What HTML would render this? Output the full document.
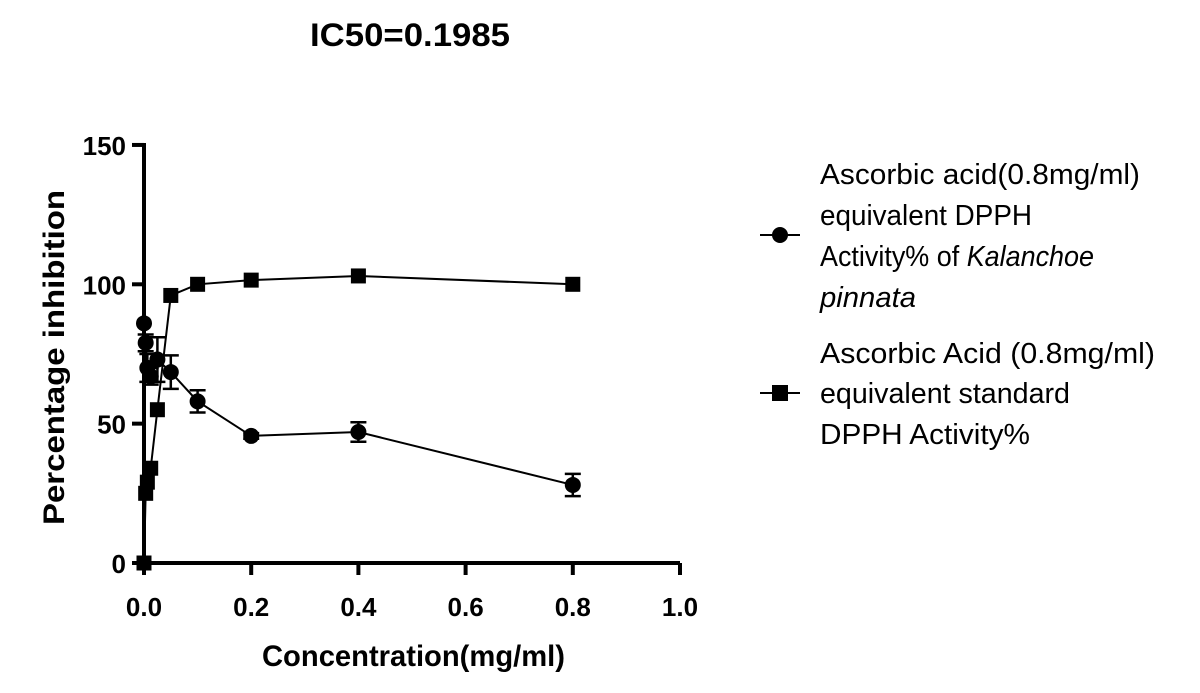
<!DOCTYPE html>
<html><head><meta charset="utf-8"><style>
body{margin:0;background:#fff;width:1200px;height:688px;overflow:hidden;font-family:"Liberation Sans",sans-serif}
</style></head><body>
<svg id="c" width="1200" height="688" font-family="Liberation Sans, sans-serif">
<text x="310" y="46" font-size="32" font-weight="bold" textLength="200" lengthAdjust="spacingAndGlyphs">IC50=0.1985</text>
<g id="axes"></g>
<g id="marks"></g>
<text x="262" y="666" font-size="30" font-weight="bold" textLength="303" lengthAdjust="spacingAndGlyphs">Concentration(mg/ml)</text>
<text transform="translate(64,525) rotate(-90)" font-size="30" font-weight="bold" textLength="335" lengthAdjust="spacingAndGlyphs">Percentage inhibition</text>
<g font-size="29">
<g>
<line x1="760" y1="235" x2="800" y2="235" stroke="#000" stroke-width="2"/>
<circle cx="780" cy="235" r="8" fill="#000"/>
<text x="820" y="184" textLength="320" lengthAdjust="spacingAndGlyphs">Ascorbic acid(0.8mg/ml)</text>
<text x="820" y="225" textLength="212" lengthAdjust="spacingAndGlyphs">equivalent DPPH</text>
<text x="820" y="266" textLength="274" lengthAdjust="spacingAndGlyphs">Activity% of <tspan font-style="italic">Kalanchoe</tspan></text>
<text x="820" y="307" font-style="italic" textLength="96" lengthAdjust="spacingAndGlyphs">pinnata</text>
</g>
<g>
<line x1="760" y1="393" x2="800" y2="393" stroke="#000" stroke-width="2"/>
<rect x="772" y="385" width="16" height="16" fill="#000"/>
<text x="820" y="363" textLength="335" lengthAdjust="spacingAndGlyphs">Ascorbic Acid (0.8mg/ml)</text>
<text x="820" y="403" textLength="250" lengthAdjust="spacingAndGlyphs">equivalent standard</text>
<text x="820" y="444" textLength="210" lengthAdjust="spacingAndGlyphs">DPPH Activity%</text>
</g>
</g>
</svg>
<script>
const xVals=[0,0.003125,0.00625,0.0125,0.025,0.05,0.1,0.2,0.4,0.8];
const circleVals=[86,79,70,67,73,68.5,58,45.6,47,28];
const circleErr=[0,3,5,3,8,6,4,1,3.5,4];
const squareVals=[0,25,29,34,55,96,100,101.5,103,100];
const xTicks=[0,0.2,0.4,0.6,0.8,1.0];
const yTicks=[0,50,100,150];
const NS="http://www.w3.org/2000/svg";
const X=v=>144+v*536, Y=v=>563-v*2.787;
function mk(t,a,p){const e=document.createElementNS(NS,t);for(const k in a)e.setAttribute(k,a[k]);p.appendChild(e);return e;}
const ax=document.getElementById('axes'), mg=document.getElementById('marks');
const xa=mk('line',{x1:X(0),y1:Y(0),x2:X(1),y2:Y(0),stroke:'#000','stroke-width':4},ax);


const ya=mk('line',{x1:X(0),y1:Y(0)+2,x2:X(0),y2:Y(150)-2,stroke:'#000','stroke-width':4},ax);


xTicks.forEach(t=>{
 mk('line',{x1:X(t),y1:Y(0),x2:X(t),y2:Y(0)+12,stroke:'#000','stroke-width':4},ax);
 const tx=mk('text',{x:X(t),y:Y(0)+53,'font-size':26,'font-weight':'bold','text-anchor':'middle'},ax);
 tx.textContent=t.toFixed(1);
 
 
});
yTicks.forEach(t=>{
 mk('line',{x1:X(0)-12,y1:Y(t),x2:X(0),y2:Y(t),stroke:'#000','stroke-width':4},ax);
 const tx=mk('text',{x:X(0)-18,y:Y(t)+10,'font-size':26,'font-weight':'bold','text-anchor':'end'},ax);
 tx.textContent=t;
 
 
});
const pc=mk('polyline',{points:xVals.map((x,i)=>X(x)+','+Y(circleVals[i])).join(' '),fill:'none',stroke:'#000','stroke-width':2},mg);


const ps=mk('polyline',{points:xVals.map((x,i)=>X(x)+','+Y(squareVals[i])).join(' '),fill:'none',stroke:'#000','stroke-width':2},mg);


xVals.forEach((x,i)=>{
 const e=circleErr[i];
 if(e>0){
  const g=mk('path',{d:`M${X(x)},${Y(circleVals[i]+e)}V${Y(circleVals[i]-e)}M${X(x)-8},${Y(circleVals[i]+e)}h16M${X(x)-8},${Y(circleVals[i]-e)}h16`,stroke:'#000','stroke-width':2.5,fill:'none'},mg);
  
  
 }
 const c=mk('circle',{cx:X(x),cy:Y(circleVals[i]),r:8,fill:'#000'},mg);
 
 
 const s=mk('rect',{x:X(x)-7.5,y:Y(squareVals[i])-7.5,width:15,height:15,fill:'#000'},mg);
 
 
});
</script>
</body></html>
